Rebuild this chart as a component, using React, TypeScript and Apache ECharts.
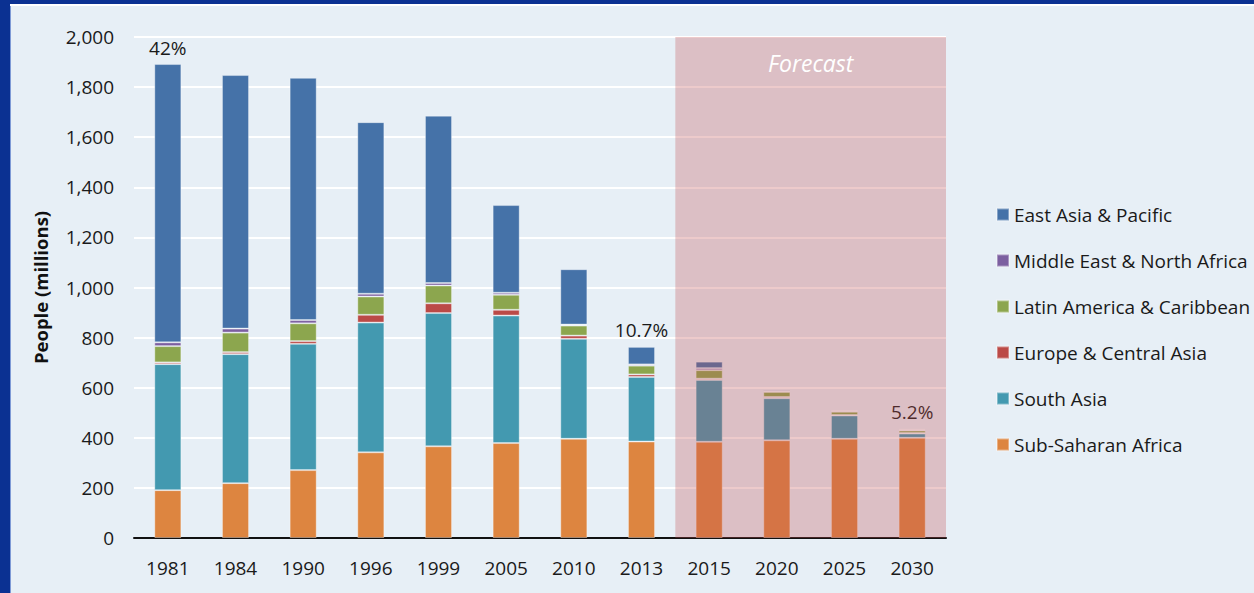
import React, { useEffect, useRef } from "react";
import * as echarts from "echarts";

const categories = ["1981", "1984", "1990", "1996", "1999", "2005", "2010", "2013", "2015", "2020", "2025", "2030"];
const subSaharanAfrica = [191, 219, 271, 342, 366, 379, 396, 385, 384, 390, 396, 400];
const southAsia = [503, 515, 504, 518, 532, 509, 399, 258, 247, 168, 93, 17];
const europeCentralAsia = [7, 8, 11, 31, 39, 23, 13, 10, 5, 5, 2, 2];
const latinAmerica = [65, 78, 71, 73, 71, 60, 40, 35, 34, 20, 13, 10];
const middleEast = [15, 16, 13, 11, 10, 8, 4, 5, 8, 4, 3, 3];
const eastAsiaPacific = [1111, 1012, 967, 685, 668, 350, 221, 70, 26, 5, 3, 4];
const povertyRates = ["42%", "", "", "", "", "", "", "10.7%", "", "", "", "5.2%"];
const yTicks = [0, 200, 400, 600, 800, 1000, 1200, 1400, 1600, 1800, 2000];
const forecastStart = "2015";

const FONT = "Open Sans";

export default function App() {
  const ref = useRef<HTMLDivElement>(null);
  useEffect(() => {
    if (!ref.current) return;
    const chart = echarts.init(ref.current, undefined, { renderer: "svg" });
    const seriesDefs = [
      { name: "Sub-Saharan Africa", data: subSaharanAfrica, color: "#DD8540" },
      { name: "South Asia", data: southAsia, color: "#4399B0" },
      { name: "Europe & Central Asia", data: europeCentralAsia, color: "#BB4A47" },
      { name: "Latin America & Caribbean", data: latinAmerica, color: "#8CA64E" },
      { name: "Middle East & North Africa", data: middleEast, color: "#7C5FA0" },
      { name: "East Asia & Pacific", data: eastAsiaPacific, color: "#4572A8" },
    ];
    const last = seriesDefs.length - 1;
    const fStart = categories.indexOf(forecastStart);
    const yMax = yTicks[yTicks.length - 1];
    const series: any[] = seriesDefs.map((s, i) => ({
      name: s.name,
      type: "bar",
      stack: "total",
      barCategoryGap: "60%",
      itemStyle: { color: s.color, borderColor: "rgba(255,255,255,0.35)", borderWidth: 1 },
      data:
        i === last
          ? s.data.map((v, k) =>
              povertyRates[k]
                ? {
                    value: v,
                    label: {
                      show: true,
                      position: "top",
                      distance: 7,
                      formatter: povertyRates[k],
                      fontFamily: FONT,
                      fontSize: 19,
                      color: "#1a1a1a",
                    },
                  }
                : v
            )
          : s.data,
    }));
    series.push({
      type: "line",
      xAxisIndex: 1,
      data: [[fStart, 0]],
      symbol: "none",
      lineStyle: { width: 0 },
      silent: true,
      z: 10,
      markArea: {
        silent: true,
        z: 10,
        itemStyle: { color: "rgba(194,79,83,0.3)" },
        label: {
          show: true,
          position: "insideTop",
          distance: 14,
          formatter: "Forecast",
          color: "#ffffff",
          fontStyle: "italic",
          fontFamily: FONT,
          fontSize: 23,
        },
        data: [[{ xAxis: fStart, yAxis: yMax }, { xAxis: categories.length, yAxis: 0 }]],
      },
    });
    chart.setOption({
      animation: false,
      backgroundColor: "#E7EFF6",
      textStyle: { fontFamily: FONT },
      grid: { left: 123, right: 308, top: 31, bottom: 55 },
      legend: {
        orient: "vertical",
        left: 980,
        top: 194,
        itemWidth: 12,
        itemHeight: 12,
        itemGap: 27,
        icon: "rect",
        data: [
          "East Asia & Pacific",
          "Middle East & North Africa",
          "Latin America & Caribbean",
          "Europe & Central Asia",
          "South Asia",
          "Sub-Saharan Africa",
        ],
        textStyle: { fontFamily: FONT, fontSize: 19, lineHeight: 18, color: "#1a1a1a" },
      },
      xAxis: [
        {
          type: "category",
          data: categories,
          axisLine: { lineStyle: { color: "#111", width: 2 } },
          axisTick: { inside: true, length: 6, lineStyle: { color: "#111", width: 2 } },
          axisLabel: { fontFamily: FONT, fontSize: 19, color: "#1a1a1a", margin: 20 },
        },
        { type: "value", min: 0, max: categories.length, show: false },
      ],
      yAxis: {
        type: "value",
        min: 0,
        max: yMax,
        interval: 200,
        name: "People (millions)",
        nameLocation: "middle",
        nameGap: 84,
        nameTextStyle: { fontFamily: FONT, fontSize: 18.5, fontWeight: "bold", color: "#111" },
        axisLine: { show: false },
        axisTick: { show: false },
        splitLine: { lineStyle: { color: "#ffffff", width: 2 } },
        axisLabel: {
          fontFamily: FONT,
          fontSize: 19,
          color: "#1a1a1a",
          margin: 20,
          formatter: (v: number) => v.toLocaleString("en-US"),
        },
      },
      series,
    });
    return () => chart.dispose();
  }, []);
  return (
    <div style={{ position: "fixed", left: 0, top: 0, width: 1254, height: 593, background: "#0B3192" }}>
      <div style={{ position: "absolute", left: 10, top: 4, width: 1244, height: 589, background: "#ffffff" }} />
      <div style={{ position: "absolute", left: 10, top: 6, width: 1, height: 587, background: "#7E9AD6" }} />
      <div ref={ref} style={{ position: "absolute", left: 11, top: 6, width: 1243, height: 587 }} />
    </div>
  );
}
